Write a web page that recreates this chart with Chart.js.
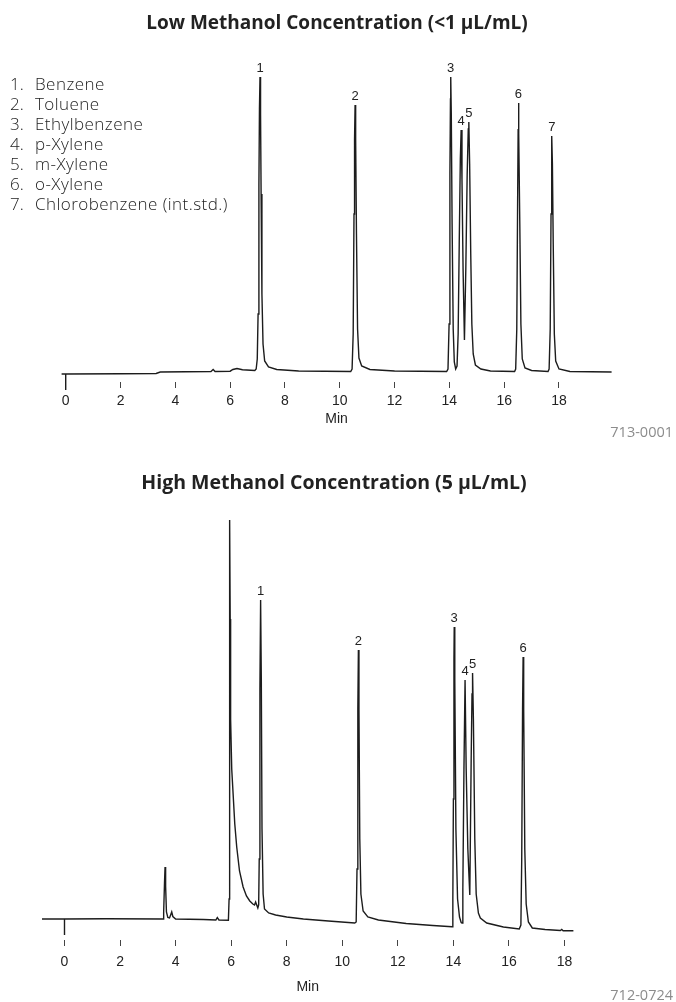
<!DOCTYPE html>
<html>
<head>
<meta charset="utf-8">
<script src="https://cdn.jsdelivr.net/npm/chart.js@4.4.1/dist/chart.umd.min.js"></script>
<style>
  html, body { margin: 0; padding: 0; background: #fff; }
  body { width: 676px; height: 1002px; position: relative; overflow: hidden; }
  .box { position: absolute; left: 0; width: 676px; }
  .title { position: absolute; left: 0; text-align: center; font: bold 19px "Open Sans", sans-serif; color: #222; line-height: 24px; }
  .legend { position: absolute; left: 10px; top: 74px; font: 300 17px "Open Sans", sans-serif; letter-spacing: 0.45px; line-height: 20px; color: #222; }
  .legend span { display: inline-block; width: 25px; letter-spacing: 0; }
  .code { position: absolute; right: 3px; font: 14.5px "Open Sans", sans-serif; color: #8c8c8c; }
</style>
</head>
<body>
<div class="box" style="top:0;height:445px"><canvas id="low"></canvas></div>
<div class="box" style="top:450px;height:552px"><canvas id="high"></canvas></div>

<div class="title" style="top:10px;width:674px">Low Methanol Concentration (&lt;1 µL/mL)</div>
<div class="title" style="top:470px;width:668px;font-size:19.5px">High Methanol Concentration (5 µL/mL)</div>

<div class="legend">
  <div><span>1.</span>Benzene</div>
  <div><span>2.</span>Toluene</div>
  <div><span>3.</span>Ethylbenzene</div>
  <div><span>4.</span>p-Xylene</div>
  <div><span>5.</span>m-Xylene</div>
  <div><span>6.</span>o-Xylene</div>
  <div><span>7.</span>Chlorobenzene (int.std.)</div>
</div>
<div class="code" style="top:422px">713-0001</div>
<div class="code" style="top:985px">712-0724</div>

<script>
// tick labels on the time axis (min)
var xTicks = [0, 2, 4, 6, 8, 10, 12, 14, 16, 18];

// low methanol run: retention time (min) and detector response
var lowTime = [-0.15, 0, 0, 0, 2.0, 3.3, 3.45, 5.3, 5.38, 5.45, 6.0, 6.1, 6.25, 6.45, 6.9,
	6.95, 6.99, 7.02, 7.05, 7.07, 7.09, 7.11, 7.13, 7.16, 7.2, 7.26, 7.4, 7.7, 8.5, 10.4,
	10.45, 10.49, 10.52, 10.54, 10.56, 10.58, 10.61, 10.65, 10.7, 10.8, 11.1, 12.0, 13.9,
	13.95, 13.99, 14.02, 14.04, 14.05, 14.07, 14.1, 14.14, 14.18, 14.23,
	14.28, 14.32, 14.36, 14.4, 14.43, 14.46, 14.5, 14.55,
	14.6, 14.65, 14.69, 14.71, 14.74, 14.78, 14.82, 14.87, 14.95, 15.15, 15.5, 16.38,
	16.42, 16.46, 16.49, 16.51, 16.52, 16.54, 16.57, 16.61, 16.66, 16.76, 17.0, 17.6,
	17.64, 17.68, 17.71, 17.73, 17.74, 17.76, 17.79, 17.83, 17.88, 18.0, 18.4, 19.92];
var lowSignal = [0, 0, -16, 0, 0.3, 0.5, 2, 2.5, 4.5, 2.5, 2.8, 4.5, 5.5, 4.2, 3.5,
	5, 15, 60, 190, 265, 297, 260, 180, 80, 30, 13, 7, 4.5, 3, 2.5,
	5, 40, 160, 235, 269, 235, 140, 45, 16, 8, 4.5, 3, 2.5,
	5, 50, 200, 275, 297, 260, 150, 45, 12, 5,
	8, 40, 130, 215, 244, 195, 105, 34,
	105, 200, 245, 252, 210, 120, 50, 20, 9, 5, 3, 2.5,
	5, 45, 170, 245, 271, 240, 150, 50, 15, 6, 3.5, 2.5,
	5, 45, 160, 220, 238, 210, 130, 40, 13, 5, 2.5, 2];

// high methanol run
var highTime = [-0.81, 0, 0, 0, 1.5, 3.55,
	3.57, 3.6, 3.62, 3.64, 3.67, 3.72, 3.78, 3.82, 3.86, 3.9, 4.0,
	5.0, 5.45, 5.5, 5.56, 5.9,
	5.925, 5.94, 5.95, 5.965, 5.98, 6.02, 6.07, 6.13, 6.2, 6.3, 6.43, 6.55, 6.67, 6.78, 6.84, 6.88, 6.92, 6.96,
	6.99, 7.01, 7.035, 7.06, 7.085, 7.11, 7.15, 7.2, 7.35, 7.6, 8.0, 8.6, 9.5, 10.45,
	10.5, 10.53, 10.56, 10.58, 10.6, 10.63, 10.67, 10.75, 10.92, 11.3, 12.3, 13.26, 13.95,
	13.98, 14.0, 14.02, 14.03, 14.05, 14.09, 14.15, 14.22, 14.28, 14.31,
	14.34, 14.38, 14.42, 14.46, 14.52, 14.59,
	14.64, 14.67, 14.69, 14.72, 14.77, 14.82, 14.9, 14.97, 15.2, 15.8, 16.37,
	16.43, 16.46, 16.49, 16.51, 16.53, 16.57, 16.62, 16.7, 16.84, 17.3, 17.85, 17.9, 17.95, 18.32];
var highSignal = [0, 0, -16, 0, 0.3, 0,
	7, 36, 52, 33, 7, 1.5, 1, 4, 7, 2.5, 0,
	-0.5, -1, 1.5, -1, -1.2,
	20, 250, 399, 300, 200, 150, 125, 95, 72, 48, 32, 23, 18, 15, 14, 17, 14, 11,
	14, 60, 230, 319, 240, 90, 25, 10, 6, 4, 2, 0, -2, -4,
	-3, 50, 210, 269, 210, 80, 25, 8, 2, -1, -4.5, -6.5, -7.7,
	20, 120, 260, 292, 240, 90, 20, 2, -3.5, -4,
	30, 150, 239, 150, 70, 24,
	160, 225, 246, 200, 80, 25, 6, 1, -4, -8, -10,
	-6, 60, 210, 262, 210, 70, 15, -3, -9, -10.5, -11.5, -10.5, -11.7, -11.7];

// peak numbers with apex time and height
var lowPeakNames = ['1', '2', '3', '4', '5', '6', '7'];
var lowPeakTimes = [7.09, 10.56, 14.05, 14.43, 14.71, 16.52, 17.74];
var lowPeakHeights = [297, 269, 297, 244, 252, 271, 238];
var highPeakNames = ['1', '2', '3', '4', '5', '6'];
var highPeakTimes = [7.06, 10.58, 14.03, 14.42, 14.69, 16.51];
var highPeakHeights = [319, 269, 292, 239, 246, 262];

var narrow = "'Liberation Sans Narrow', 'Arial Narrow', 'Liberation Sans', Arial, sans-serif";

function toPoints(xs, ys) {
	return xs.map(function (x, i) { return {x: x, y: ys[i]}; });
}

// writes the peak number above each apex
function peakLabels(names, times, heights) {
	return {
		id: 'peakLabels',
		afterDatasetsDraw: function (chart) {
			var ctx = chart.ctx;
			var x = chart.scales.x, y = chart.scales.y;
			ctx.save();
			ctx.font = '13px ' + narrow;
			ctx.fillStyle = '#222';
			ctx.textAlign = 'center';
			ctx.textBaseline = 'middle';
			names.forEach(function (n, i) {
				ctx.fillText(n, x.getPixelForValue(times[i]), y.getPixelForValue(heights[i]) - 8.5);
			});
			ctx.restore();
		}
	};
}

function chromatogram(id, cfg) {
	return new Chart(document.getElementById(id), {
		type: 'line',
		data: {
			datasets: [{
				data: toPoints(cfg.time, cfg.signal),
				borderColor: '#1c1c1c',
				borderWidth: 1.4,
				pointRadius: 0,
				tension: 0,
				fill: false,
				clip: false
			}]
		},
		options: {
			responsive: true,
			maintainAspectRatio: false,
			animation: false,
			events: [],
			layout: {padding: cfg.padding},
			plugins: {
				legend: {display: false},
				tooltip: {enabled: false},
				title: {display: false}
			},
			scales: {
				x: {
					type: 'linear',
					min: cfg.xMin,
					max: cfg.xMax,
					border: {display: false},
					grid: {drawOnChartArea: false, drawTicks: true, tickLength: 6, color: '#444', tickWidth: 1},
					ticks: {color: '#222', padding: cfg.tickPad, maxRotation: 0, includeBounds: false,
						font: {family: narrow, size: 14, lineHeight: 1.2}},
					afterBuildTicks: function (s) { s.ticks = xTicks.map(function (v) { return {value: v}; }); },
					afterFit: function (s) { s.height = cfg.axisHeight; },
					title: {display: true, text: 'Min', color: '#222', padding: {top: 0, bottom: 0.6},
						font: {family: narrow, size: 14, lineHeight: 1.2}}
				},
				y: {display: false, min: cfg.yMin, max: cfg.yMax}
			}
		},
		plugins: [peakLabels(cfg.names, cfg.times, cfg.heights)]
	});
}

chromatogram('low', {
	time: lowTime, signal: lowSignal,
	names: lowPeakNames, times: lowPeakTimes, heights: lowPeakHeights,
	padding: {left: 61.6, right: 64.4, top: 60, bottom: 17},
	axisHeight: 46, tickPad: 5,
	xMin: -0.15, xMax: 19.92, yMin: -8, yMax: 314
});

chromatogram('high', {
	time: highTime, signal: highSignal,
	names: highPeakNames, times: highPeakTimes, heights: highPeakHeights,
	padding: {left: 42, right: 102.6, top: 55, bottom: 6},
	axisHeight: 56, tickPad: 7.5,
	xMin: -0.81, xMax: 18.32, yMin: -21, yMax: 414
});
</script>
</body>
</html>
